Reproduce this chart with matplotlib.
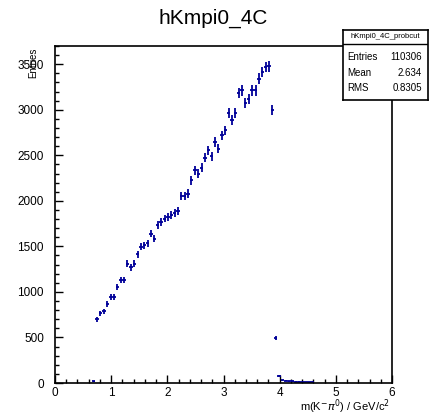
import numpy as np
import matplotlib
matplotlib.use("Agg")
import matplotlib.pyplot as plt
from matplotlib.ticker import MultipleLocator

plt.rcParams['font.family'] = ['Liberation Sans', 'DejaVu Sans']

# ---- data ----
bin_width = 0.06
bin_centers = [
    0.69,
    0.75, 0.81, 0.87, 0.93, 0.99, 1.05, 1.11, 1.17, 1.23, 1.29,
    1.35, 1.41, 1.47, 1.53, 1.59, 1.65, 1.71, 1.77, 1.83, 1.89,
    1.95, 2.01, 2.07, 2.13, 2.19, 2.25, 2.31, 2.37, 2.43, 2.49,
    2.55, 2.61, 2.67, 2.73, 2.79, 2.85, 2.91, 2.97, 3.03, 3.09,
    3.15, 3.21, 3.27, 3.33, 3.39, 3.45, 3.51, 3.57, 3.63, 3.69,
    3.75, 3.81, 3.87, 3.93, 3.99,
    4.05, 4.11, 4.17, 4.23, 4.29, 4.35, 4.41, 4.47, 4.53, 4.59,
]
counts = [
    20,
    698, 764, 789, 866, 946, 946, 1056, 1130, 1130, 1312,
    1269, 1312, 1414, 1495, 1513, 1532, 1641, 1586, 1732, 1769,
    1806, 1824, 1842, 1867, 1886, 2054, 2054, 2079, 2226, 2336,
    2298, 2365, 2475, 2555, 2489, 2646, 2573, 2719, 2774, 2964,
    2884, 2964, 3183, 3213, 3073, 3121, 3213, 3213, 3341, 3414,
    3468, 3476, 2993, 490, 80,
    30, 25, 20, 18, 15, 14, 12, 10, 8, 6,
]
x_ticks = [0, 1, 2, 3, 4, 5, 6]
y_ticks = [0, 500, 1000, 1500, 2000, 2500, 3000, 3500]

hist_title = "hKmpi0_4C"
stats_name = "hKmpi0_4C_probcut"
stats_rows = [("Entries", "110306"), ("Mean", "2.634"), ("RMS", "0.8305")]

W, H = 431, 417
fig = plt.figure(figsize=(W / 100, H / 100), dpi=100)
fig.patch.set_facecolor('white')

ax = fig.add_axes([55 / W, 1 - 383 / H, (392 - 55) / W, (383 - 46) / H])
x = np.array(bin_centers)
y = np.array(counts, dtype=float)
ax.errorbar(x, y, yerr=np.sqrt(y), xerr=bin_width / 2, fmt='none',
            ecolor='#000099', elinewidth=1.3, capsize=0)

ax.set_xlim(0, 6)
ax.set_ylim(0, 3700)
ax.set_xticks(x_ticks)
ax.set_yticks(y_ticks)
ax.xaxis.set_minor_locator(MultipleLocator(0.2))
ax.yaxis.set_minor_locator(MultipleLocator(100))
ax.tick_params(which='both', direction='in', top=False, right=False,
               labelsize=8.5, width=1.0)
ax.tick_params(which='major', length=6)
ax.tick_params(which='minor', length=3)
ax.tick_params(axis='y', pad=8)
ax.tick_params(axis='x', pad=3)
for s in ax.spines.values():
    s.set_linewidth(1.2)
    s.set_color('black')

fig.text(33 / W, 1 - 48 / H, "Entries", rotation=90, ha='center', va='top',
         fontsize=7)
fig.text(390 / W, 1 - 407 / H, r"m(K$^{-}\pi^{0}$) / GeV/c$^{2}$",
         ha='right', va='center', fontsize=8)
fig.text(213 / W, 1 - 18 / H, hist_title, ha='center', va='center', fontsize=15)

# stats box
bx0, bx1, by0, by1 = 343, 428, 30, 100
sax = fig.add_axes([bx0 / W, 1 - by1 / H, (bx1 - bx0) / W, (by1 - by0) / H])
sax.set_xlim(bx0, bx1)
sax.set_ylim(by1, by0)
sax.set_xticks([])
sax.set_yticks([])
sax.set_facecolor('white')
for s in sax.spines.values():
    s.set_linewidth(1.2)
sax.plot([bx0, bx1], [44, 44], color='black', lw=1.0)
sax.text((bx0 + bx1) / 2, 37, stats_name, ha='center', va='center', fontsize=5.5)
row_y = [57, 73, 88]
for (lab, val), yy in zip(stats_rows, row_y):
    sax.text(347, yy, lab, ha='left', va='center', fontsize=7)
    sax.text(422, yy, val, ha='right', va='center', fontsize=7)

fig.savefig("out.png", dpi=100)
